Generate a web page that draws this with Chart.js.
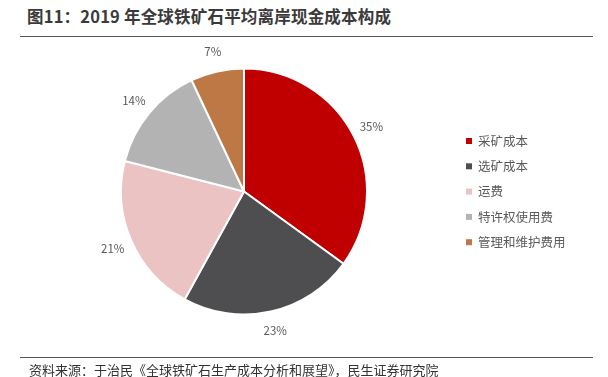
<!DOCTYPE html>
<html>
<head>
<meta charset="utf-8">
<script src="https://cdn.jsdelivr.net/npm/chart.js@4"></script>
<style>
  body { margin: 0; width: 608px; height: 377px; background: #fff; position: relative; overflow: hidden; font-family: "Noto Sans CJK SC", sans-serif; }
  #title { position: absolute; left: 27px; top: 4px; font-size: 16.5px; font-weight: bold; color: #3a3a3a; white-space: nowrap; letter-spacing: 0.2px; }
  #topline { position: absolute; left: 20px; width: 573px; top: 36px; height: 0; border-top: 1.5px solid #555; }
  #botline { position: absolute; left: 20px; width: 573px; top: 357px; height: 0; border-top: 1px solid #555; }
  #source { position: absolute; left: 29px; top: 360px; font-size: 13px; color: #333; white-space: nowrap; }
  #wrap { position: absolute; left: 0; top: 0; width: 608px; height: 377px; }
</style>
</head>
<body>
<div id="title">图11：2019 年全球铁矿石平均离岸现金成本构成</div>
<div id="topline"></div>
<div id="wrap"><canvas id="pie"></canvas></div>
<div id="botline"></div>
<div id="source">资料来源：于治民《全球铁矿石生产成本分析和展望》，民生证券研究院</div>
<script>
const categories = ["采矿成本", "选矿成本", "运费", "特许权使用费", "管理和维护费用"];
const shares = [35, 23, 21, 14, 7];
const sliceColors = ["#C00000", "#4E4E50", "#EBC3C3", "#B3B3B3", "#BE7845"];

// percentage labels just outside each slice
const outsideLabels = {
    id: 'outsideLabels',
    afterDatasetsDraw(chart) {
        const ctx = chart.ctx;
        const meta = chart.getDatasetMeta(0);
        ctx.save();
        ctx.font = '11.5px "Noto Sans CJK SC", sans-serif';
        ctx.fillStyle = '#595959';
        ctx.textAlign = 'center'; ctx.textBaseline = 'middle';
        meta.data.forEach((arc, i) => {
            const p = arc.getProps(['x', 'y', 'startAngle', 'endAngle', 'outerRadius'], true);
            const mid = (p.startAngle + p.endAngle) / 2;
            const r = p.outerRadius + 20;
            ctx.fillText(shares[i] + '%', p.x + Math.cos(mid) * r, p.y + Math.sin(mid) * r);
        });
        ctx.restore();
    }
};

// legend on the right
const sideLegend = {
    id: 'sideLegend',
    afterDraw(chart) {
        const ctx = chart.ctx;
        ctx.save();
        ctx.font = '12.5px "Noto Sans CJK SC", sans-serif';
        ctx.textBaseline = 'middle';
        categories.forEach((c, i) => {
            const y = 141 + i * 25.3;
            ctx.fillStyle = sliceColors[i];
            ctx.fillRect(466, y - 3, 6, 6);
            ctx.fillStyle = '#595959';
            ctx.fillText(c, 478, y);
        });
        ctx.restore();
    }
};

new Chart(document.getElementById('pie'), {
    type: 'pie',
    data: { labels: categories, datasets: [{ data: shares, backgroundColor: sliceColors, borderColor: '#fff', borderWidth: 2 }] },
    options: {
        responsive: true, maintainAspectRatio: false, animation: false,
        layout: { padding: { left: 120, right: 240, top: 67, bottom: 61 } },
        plugins: { legend: { display: false }, tooltip: { enabled: false } }
    },
    plugins: [outsideLabels, sideLegend]
});
</script>
</body>
</html>
